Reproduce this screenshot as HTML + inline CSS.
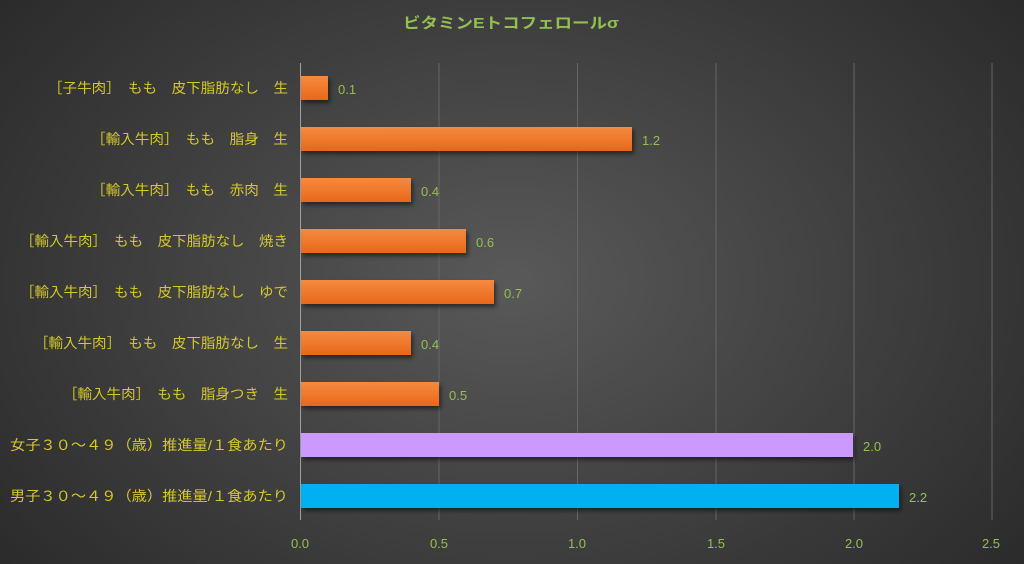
<!DOCTYPE html>
<html><head><meta charset="utf-8"><style>
html,body{margin:0;padding:0;}
body{width:1024px;height:564px;overflow:hidden;background:radial-gradient(ellipse 70% 90% at 50% 50%,#595959 0%,#3a3a3a 60%,#262626 100%);}
svg{display:block;}
.cat{font-family:"Liberation Sans","Noto Sans CJK JP",sans-serif;font-size:14px;fill:#d4c82a;}
.val{font-family:"Liberation Sans",sans-serif;font-size:13px;fill:#92c050;}
</style></head><body>
<svg width="1024" height="564" xmlns="http://www.w3.org/2000/svg">
<defs>
<linearGradient id="og" x1="0" y1="0" x2="0" y2="1"><stop offset="0" stop-color="#f58a40"/><stop offset="1" stop-color="#e8681a"/></linearGradient>
<filter id="sh" x="-5%" y="-20%" width="110%" height="160%"><feDropShadow dx="2" dy="3" stdDeviation="2" flood-color="#000" flood-opacity="0.5"/></filter>
</defs>
<text x="403" y="28" textLength="216" lengthAdjust="spacingAndGlyphs" font-family="Liberation Sans,'Noto Sans CJK JP',sans-serif" font-size="15" font-weight="bold" fill="#92c050">ビタミンEトコフェロールσ</text>
<g stroke="#666" stroke-width="1">
<line x1="439" y1="63" x2="439" y2="520"/><line x1="577.5" y1="63" x2="577.5" y2="520"/><line x1="716" y1="63" x2="716" y2="520"/><line x1="854" y1="63" x2="854" y2="520"/><line x1="992" y1="63" x2="992" y2="520"/>
</g>
<line x1="300.5" y1="63" x2="300.5" y2="520" stroke="#a0a0a0"/>
<g filter="url(#sh)">
<rect x="301" y="76" width="27" height="24" fill="url(#og)"/>
<rect x="301" y="127" width="331" height="24" fill="url(#og)"/>
<rect x="301" y="178" width="110" height="24" fill="url(#og)"/>
<rect x="301" y="229" width="165" height="24" fill="url(#og)"/>
<rect x="301" y="280" width="193" height="24" fill="url(#og)"/>
<rect x="301" y="331" width="110" height="24" fill="url(#og)"/>
<rect x="301" y="382" width="138" height="24" fill="url(#og)"/>
<rect x="301" y="433" width="552" height="24" fill="#cc99ff"/>
<rect x="301" y="484" width="598" height="24" fill="#00b0f0"/>
</g>
<g class="cat" lengthAdjust="spacingAndGlyphs">
<text x="48" y="93" textLength="240" lengthAdjust="spacingAndGlyphs">［子牛肉］　もも　皮下脂肪なし　生</text>
<text x="91" y="144" textLength="197" lengthAdjust="spacingAndGlyphs">［輸入牛肉］　もも　脂身　生</text>
<text x="91" y="195" textLength="197" lengthAdjust="spacingAndGlyphs">［輸入牛肉］　もも　赤肉　生</text>
<text x="20" y="246" textLength="268" lengthAdjust="spacingAndGlyphs">［輸入牛肉］　もも　皮下脂肪なし　焼き</text>
<text x="20" y="297" textLength="268" lengthAdjust="spacingAndGlyphs">［輸入牛肉］　もも　皮下脂肪なし　ゆで</text>
<text x="34" y="348" textLength="254" lengthAdjust="spacingAndGlyphs">［輸入牛肉］　もも　皮下脂肪なし　生</text>
<text x="63" y="399" textLength="225" lengthAdjust="spacingAndGlyphs">［輸入牛肉］　もも　脂身つき　生</text>
<text x="10" y="450" textLength="278" lengthAdjust="spacingAndGlyphs">女子３０～４９（歳）推進量/１食あたり</text>
<text x="10" y="501" textLength="278" lengthAdjust="spacingAndGlyphs">男子３０～４９（歳）推進量/１食あたり</text>
</g>
<g class="val">
<text x="338" y="94">0.1</text>
<text x="642" y="145">1.2</text>
<text x="421" y="196">0.4</text>
<text x="476" y="247">0.6</text>
<text x="504" y="298">0.7</text>
<text x="421" y="349">0.4</text>
<text x="449" y="400">0.5</text>
<text x="863" y="451">2.0</text>
<text x="909" y="502">2.2</text>
</g>
<g class="val" text-anchor="middle">
<text x="300" y="548">0.0</text><text x="439" y="548">0.5</text><text x="577" y="548">1.0</text><text x="716" y="548">1.5</text><text x="854" y="548">2.0</text><text x="991" y="548">2.5</text>
</g>
</svg>
</body></html>
